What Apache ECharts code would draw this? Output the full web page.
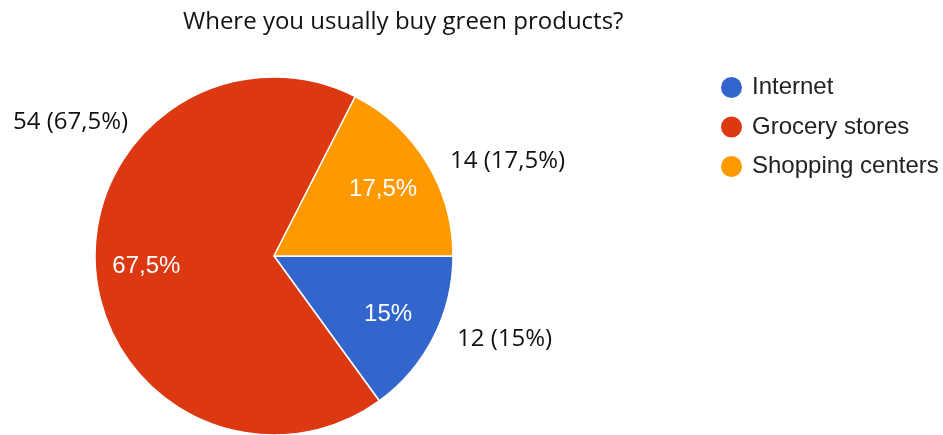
<!DOCTYPE html>
<html>
<head>
<meta charset="utf-8">
<script src="https://cdn.jsdelivr.net/npm/echarts@6/dist/echarts.min.js"></script>
<style>html,body{margin:0;padding:0;background:#fff;}#c{width:943px;height:435px;}</style>
</head>
<body>
<div id="c"></div>
<script>
const titleText = 'Where you usually buy green products?';
const categories = ['Internet', 'Grocery stores', 'Shopping centers'];
const counts = [12, 54, 14];
const percentLabels = ['15%', '67,5%', '17,5%'];
const colors = ['#3366cc', '#dc3912', '#ff9900'];

// outside label anchor positions (left edge, vertical middle), per slice
const outsideLabelPos = [[457, 339], [13, 122], [450, 161]];

const chart = echarts.init(document.getElementById('c'));
const data = categories.map((n, i) => ({ name: n, value: counts[i], itemStyle: { color: colors[i] } }));
const overlayData = categories.map((n, i) => ({ name: n, value: counts[i] }));

chart.setOption({
  animation: false,
  title: {
    text: titleText, left: 178, top: 5,
    textStyle: { fontFamily: 'Open Sans', fontWeight: 'normal', fontSize: 24, color: '#111' }
  },
  legend: {
    orient: 'vertical', left: 719, top: 75, padding: 0,
    icon: 'circle', itemWidth: 23, itemHeight: 23, itemGap: 14.5,
    data: categories,
    textStyle: { fontFamily: 'Liberation Sans', fontSize: 24, color: '#222', padding: [0, 0, 0, 4] }
  },
  series: [
    {
      type: 'pie', center: [274, 256], radius: [0, 179],
      startAngle: 0, clockwise: true,
      itemStyle: { borderColor: '#fff', borderWidth: 1.5 },
      label: {
        show: true, position: 'outside', overflow: 'none', alignTo: 'none',
        formatter: p => p.value + ' (' + percentLabels[p.dataIndex] + ')',
        fontFamily: 'Open Sans', fontSize: 24, color: '#111'
      },
      labelLine: { show: false },
      labelLayout: p => ({
        x: outsideLabelPos[p.dataIndex][0], y: outsideLabelPos[p.dataIndex][1],
        align: 'left', verticalAlign: 'middle'
      }),
      emphasis: { disabled: true },
      data: data
    },
    {
      type: 'pie', center: [274, 256], radius: [0, 250],
      startAngle: 0, clockwise: true, silent: true,
      itemStyle: { color: 'rgba(0,0,0,0)' },
      label: {
        show: true, position: 'inside',
        formatter: p => percentLabels[p.dataIndex],
        fontFamily: 'Liberation Sans', fontSize: 24, color: '#fff'
      },
      labelLine: { show: false },
      emphasis: { disabled: true },
      legendHoverLink: false,
      data: overlayData
    }
  ]
});
</script>
</body>
</html>
